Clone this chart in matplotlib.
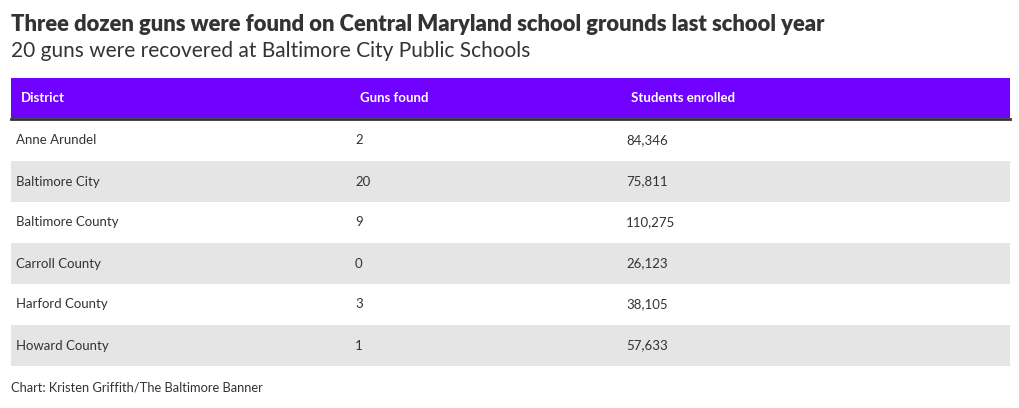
import matplotlib.pyplot as plt
from matplotlib.patches import Rectangle

# Table data
districts = ['Anne Arundel', 'Baltimore City', 'Baltimore County',
             'Carroll County', 'Harford County', 'Howard County']
guns_found = [2, 20, 9, 0, 3, 1]
students_enrolled = [84346, 75811, 110275, 26123, 38105, 57633]
columns = ['District', 'Guns found', 'Students enrolled']

title = 'Three dozen guns were found on Central Maryland school grounds last school year'
subtitle = '20 guns were recovered at Baltimore City Public Schools'
credit = 'Chart: Kristen Griffith/The Baltimore Banner'

FONT = ['Lato', 'DejaVu Sans']
TEXT = '#333333'
HEADER = '#7000ff'
STRIPE = '#e5e5e5'

W, H = 1020, 408
fig = plt.figure(figsize=(W / 100, H / 100), dpi=100)
ax = fig.add_axes([0, 0, 1, 1])
ax.set_xlim(0, W)
ax.set_ylim(H, 0)
ax.axis('off')

# pixel layout
left, right = 11, 1010
col_x = [16, 355, 626]
head_top, head_bot = 78, 118
row_top, row_h = 120, 41

fig.text(11 / W, 1 - 31 / H, title, fontsize=15.8, fontweight='heavy',
         color=TEXT, family=FONT, va='baseline')
fig.text(11 / W, 1 - 57 / H, subtitle, fontsize=15, color=TEXT,
         family=FONT, va='baseline')

# header band
ax.add_patch(Rectangle((left, head_top), right - left, head_bot - head_top,
                       facecolor=HEADER, edgecolor='none'))
ax.plot([left, right], [head_bot + 1, head_bot + 1], color='#333333', lw=2)
for x, name in zip(col_x, columns):
    ax.text(x + 5, (head_top + head_bot) / 2, name, color='white',
            fontsize=9.5, fontweight='bold', family=FONT, va='center')

# body rows
for i, (d, g, s) in enumerate(zip(districts, guns_found, students_enrolled)):
    top = row_top + i * row_h
    if i % 2 == 1:
        ax.add_patch(Rectangle((left, top), right - left, row_h,
                               facecolor=STRIPE, edgecolor='none'))
    else:
        ax.plot([left, right], [top + row_h, top + row_h],
                color='#e8e8e8', lw=0.6)
    yc = top + row_h / 2
    for x, val in zip(col_x, [d, str(g), f'{s:,}']):
        ax.text(x, yc, val, color=TEXT, fontsize=9.5, family=FONT, va='center')

fig.text(11 / W, 1 - 387 / H, credit, fontsize=9.3, color=TEXT,
         family=FONT, va='center')

fig.savefig('out.png', dpi=100)
